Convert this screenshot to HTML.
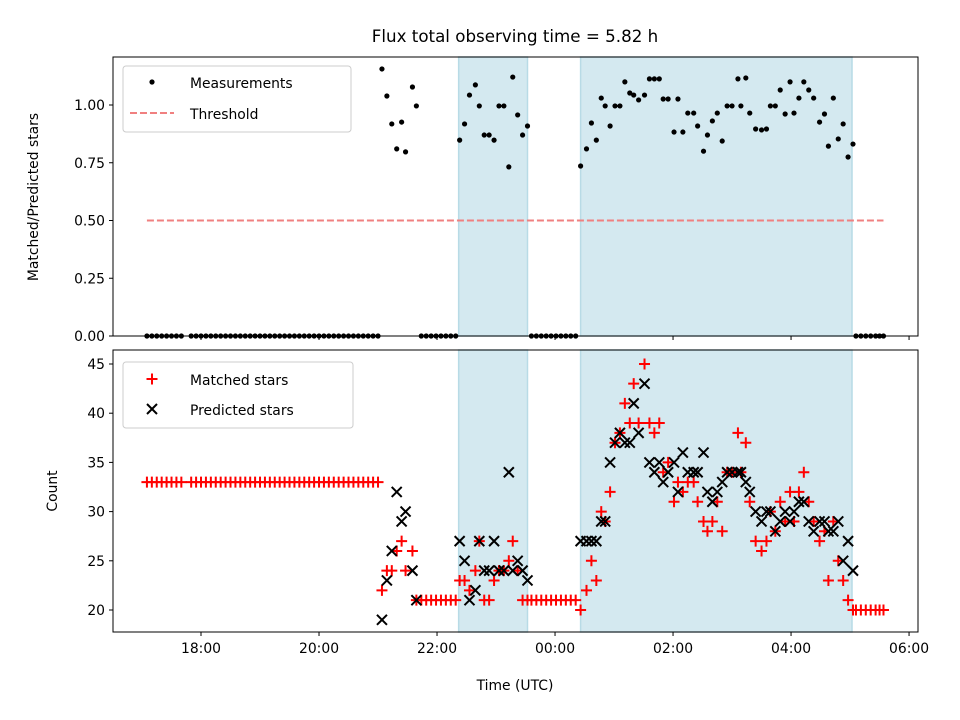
<!DOCTYPE html>
<html><head><meta charset="utf-8">
<style>
html,body{margin:0;padding:0;background:#fff;}
svg{display:block;font-family:"DejaVu Sans","Liberation Sans",sans-serif;}
</style></head>
<body>
<svg id="chart" width="960" height="720" viewBox="0 0 960 720"></svg>
<script>
// ---- data (minutes since 17:00 UTC) ----
const zeroTimesA = [5,10,15,20,25,30,35,40];
const zeroTimesB = [50,55,60,65,70,75,80,85,90,95,100,105,110,115,120,125,130,135,140,145,150,155,160,165,170,175,180,185,190,195,200,205,210,215,220,225,230,235,240];
const zeroMatchedAB = 33;
const earlyTimes = [244,249,254,259,264,268,275,279];
const earlyRatio = [1.156,1.039,0.918,0.810,0.926,0.797,1.078,0.996];
const earlyPred = [19,23,26,32,29,30,24,21];
const earlyMatched = [22,24,24,26,27,24,26,21];
const zeroTimesC = [284,289,294,299,304,309,314,319];
const zeroMatchedC = [21,21,21,21,21,21,21,21];
const shade1Times = [323,328,333,339,343,348,353,358,363,368,373,377,382,387,392];
const shade1Ratio = [0.848,0.918,1.043,1.087,0.996,0.870,0.870,0.848,0.996,0.996,0.732,1.121,0.957,0.870,0.909];
const shade1Pred = [27,25,21,22,27,24,24,27,24,24,34,24,25,24,23];
const shade1Matched = [23,23,22,24,27,21,21,23,24,24,25,27,24,21,21];
const zeroTimesD = [396,401,406,411,416,421,426,431,436,441];
const zeroMatchedD = [21,21,21,21,21,21,21,21,21,21];
const shade2Times = [446,452,457,462,467,471,476,481,486,491,496,500,505,511,516,521,526,530,535,541,545,550,555,561,565,571,575,580,585,590,595,600,606,609,614,618,624,630,635,639,644,649,654,659,663,668,673,678,683,689,694,698,703,708,713,718,723];
const shade2Ratio = [0.736,0.81,0.922,0.848,1.03,0.996,0.909,0.996,0.996,1.10,1.052,1.043,1.022,1.043,1.113,1.113,1.113,1.026,1.026,0.883,1.026,0.883,0.965,0.965,0.909,0.80,0.870,0.931,0.965,0.844,0.996,0.996,1.113,0.996,1.117,0.965,0.896,0.892,0.896,0.996,0.996,1.065,0.961,1.10,0.965,1.03,1.10,1.065,1.03,0.926,0.961,0.822,1.03,0.853,0.918,0.775,0.831];
const shade2Pred = [27,27,27,27,29,29,35,37,38,37,37,41,38,43,35,34,35,33,34,35,32,36,34,34,34,36,32,31,32,33,34,34,34,34,33,32,30,29,30,30,28,29,30,29,30,31,31,29,28,29,29,28,28,29,25,27,24];
const shade2Matched = [20,22,25,23,30,29,32,37,38,41,39,43,39,45,39,38,39,34,35,31,33,32,33,33,31,29,28,29,31,28,34,34,38,34,37,31,27,26,27,30,28,31,29,32,29,32,34,31,29,27,28,23,29,25,23,21,20];
const zeroTimesE = [726,731,736,741,746,750,754];
const zeroMatchedE = [20,20,20,20,20,20,20];
const shadeSpans = [[322,392],[446,722]];
const threshold = 0.5;
const thresholdRange = [5,754];
const xTickMinutes = [60,180,300,420,540,660,780];
const xTickLabels = ["18:00","20:00","22:00","00:00","02:00","04:00","06:00"];
const topTicks = [0,0.25,0.5,0.75,1.0];
const botTicks = [20,25,30,35,40,45];

// ---- assemble ----
let times=[],ratio=[],matched=[],pred=[];
function add(t,r,m,p){for(let i=0;i<t.length;i++){times.push(t[i]);ratio.push(r[i]);matched.push(m[i]);pred.push(p?p[i]:null);}}
add(zeroTimesA, zeroTimesA.map(()=>0), zeroTimesA.map(()=>zeroMatchedAB), null);
add(zeroTimesB, zeroTimesB.map(()=>0), zeroTimesB.map(()=>zeroMatchedAB), null);
add(earlyTimes, earlyRatio, earlyMatched, earlyPred);
add(zeroTimesC, zeroTimesC.map(()=>0), zeroMatchedC, null);
add(shade1Times, shade1Ratio, shade1Matched, shade1Pred);
add(zeroTimesD, zeroTimesD.map(()=>0), zeroMatchedD, null);
add(shade2Times, shade2Ratio, shade2Matched, shade2Pred);
add(zeroTimesE, zeroTimesE.map(()=>0), zeroMatchedE, null);

// ---- scales ----
const L=113,R=918;
const xMin=-29.5,xMax=789.1;
const X=m=>L+(m-xMin)/(xMax-xMin)*(R-L);
const T1=57,B1=336, yTop=v=>B1-v*231;
const T2=350,B2=632, yBot=v=>610-(v-20)*9.84;

const svg=document.getElementById('chart');
const NS='http://www.w3.org/2000/svg';
function el(tag,attrs,parent){const e=document.createElementNS(NS,tag);for(const k in attrs)e.setAttribute(k,attrs[k]);(parent||svg).appendChild(e);return e;}

// title
let t=el('text',{x:515,y:42,'text-anchor':'middle','font-size':16.7,fill:'#000'});
t.textContent='Flux total observing time = 5.82 h';



function panel(top,bottom,name){
  const g=el('g',{});
  
  
  for(const s of shadeSpans){
    const r=el('rect',{x:X(s[0]),y:top,width:X(s[1])-X(s[0]),height:bottom-top,fill:'#d4e9f0',stroke:'#b8dbe6','stroke-width':1.5},g);
    
    
  }
  return g;
}
const g1=panel(T1,B1,'top-panel');
const g2=panel(T2,B2,'bottom-panel');

// threshold
let th=el('line',{x1:X(thresholdRange[0]),x2:X(thresholdRange[1]),y1:yTop(threshold),y2:yTop(threshold),stroke:'#f08080','stroke-width':2,'stroke-dasharray':'7,3'},g1);



// measurement dots
for(let i=0;i<times.length;i++){
  const c=el('circle',{cx:X(times[i]),cy:yTop(ratio[i]),r:2.6,fill:'#000'},g1);
  
  
}
// matched +
for(let i=0;i<times.length;i++){
  const x=X(times[i]),y=yBot(matched[i]);
  const p=el('path',{d:`M${x-5.5},${y}H${x+5.5}M${x},${y-5.5}V${y+5.5}`,stroke:'#ff0000','stroke-width':2,fill:'none'},g2);
  
  
}
// predicted x
for(let i=0;i<times.length;i++){
  if(pred[i]==null)continue;
  const x=X(times[i]),y=yBot(pred[i]);
  const p=el('path',{d:`M${x-5},${y-5}L${x+5},${y+5}M${x-5},${y+5}L${x+5},${y-5}`,stroke:'#000','stroke-width':2,fill:'none'},g2);
  
  
}

// frames
for(const [top,bot,nm] of [[T1,B1,'top-axes-frame'],[T2,B2,'bottom-axes-frame']]){
  const f=el('rect',{x:L,y:top,width:R-L,height:bot-top,fill:'none',stroke:'#000','stroke-width':1});
  
  
}
// x ticks
xTickMinutes.forEach((m,i)=>{
  const x=X(m);
  el('line',{x1:x,x2:x,y1:B1,y2:B1+4,stroke:'#000'});
  el('line',{x1:x,x2:x,y1:B2,y2:B2+4,stroke:'#000'});
  const tx=el('text',{x:x,y:B2+21,'text-anchor':'middle','font-size':13.9});
  tx.textContent=xTickLabels[i];
  
  
});
topTicks.forEach(v=>{
  const y=yTop(v);
  el('line',{x1:L-4,x2:L,y1:y,y2:y,stroke:'#000'});
  const tx=el('text',{x:L-8,y:y+5,'text-anchor':'end','font-size':13.9});
  tx.textContent=v.toFixed(2);
  
  
});
botTicks.forEach(v=>{
  const y=yBot(v);
  el('line',{x1:L-4,x2:L,y1:y,y2:y,stroke:'#000'});
  const tx=el('text',{x:L-8,y:y+5,'text-anchor':'end','font-size':13.9});
  tx.textContent=String(v);
  
  
});
// axis titles
let a=el('text',{x:0,y:0,'text-anchor':'middle','font-size':13.9,transform:'translate(38,197) rotate(-90)'});
a.textContent='Matched/Predicted stars';


a=el('text',{x:0,y:0,'text-anchor':'middle','font-size':13.9,transform:'translate(57,491) rotate(-90)'});
a.textContent='Count';


a=el('text',{x:515,y:690,'text-anchor':'middle','font-size':13.9});
a.textContent='Time (UTC)';



// legends
function legendBox(x,y,w,h,name){
  const r=el('rect',{x:x,y:y,width:w,height:h,rx:3,fill:'#fff','fill-opacity':0.85,stroke:'#ccc'});
  
  
}
function legText(x,y,s,name){const e=el('text',{x:x,y:y,'font-size':13.9});e.textContent=s;}
legendBox(123,66,228,66,'top-legend');
el('circle',{cx:152,cy:82,r:2.6,fill:'#000'});
legText(190,88,'Measurements','legend-measurements');
el('line',{x1:130,x2:174,y1:113,y2:113,stroke:'#f08080','stroke-width':2,'stroke-dasharray':'7,3'});
legText(190,119,'Threshold','legend-threshold');
legendBox(123,362,230,66,'bottom-legend');
el('path',{d:'M146.5,379H157.5M152,373.5V384.5',stroke:'#ff0000','stroke-width':2});
legText(190,385,'Matched stars','legend-matched-stars');
el('path',{d:'M147,404L157,414M147,414L157,404',stroke:'#000','stroke-width':2});
legText(190,415,'Predicted stars','legend-predicted-stars');
</script>
</body></html>
